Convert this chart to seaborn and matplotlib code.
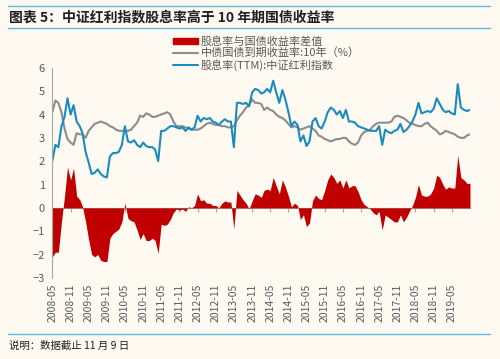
import pandas as pd
import matplotlib
matplotlib.use("Agg")
import matplotlib.pyplot as plt
import matplotlib.dates as mdates
from matplotlib.patches import Patch
from matplotlib.lines import Line2D
import seaborn as sns

# monthly readings, 2008-05 .. 2019-10
start_month = "2008-05-01"

div_yield = [
    2.0, 2.7, 2.6, 3.5, 3.9, 4.7, 4.0, 4.4, 3.7, 3.5, 3.2, 2.4, 1.95, 1.45, 1.5, 1.65,
    1.45, 1.35, 1.3, 2.2, 2.35, 2.35, 2.4, 2.7, 3.5, 2.85, 2.8, 2.9, 2.7, 2.6, 2.8, 2.65,
    2.6, 2.6, 2.5, 2.0, 3.3, 3.3, 3.4, 3.5, 3.5, 3.45, 3.4, 3.45, 3.3,
    3.45, 3.35, 3.45, 3.95, 3.7, 3.85, 3.8, 3.85, 3.7, 3.65, 3.55, 3.7, 3.8, 3.7, 3.7,
    2.6, 4.5, 4.5, 4.45, 4.5, 4.35, 4.95, 5.1, 5.05, 4.9, 4.95, 5.1, 4.95, 5.45, 4.95,
    4.5, 5.05, 4.65, 4.1, 3.5, 3.7, 3.55, 2.85, 3.1, 2.65, 2.85, 3.7, 3.85, 3.5,
    3.4, 3.7, 4.1, 4.3, 4.2, 4.0, 4.15, 3.85, 4.2, 3.7, 3.7, 3.65, 3.5, 3.45, 3.4, 3.35,
    3.3, 3.3, 3.3, 3.5, 2.7, 3.35, 3.25, 3.2, 3.3, 3.35, 3.6, 3.25, 3.35, 3.5, 3.7, 4.0,
    4.5, 4.05, 4.1, 4.15, 4.1, 4.25, 4.7, 4.45, 4.2, 4.1, 4.15, 4.05, 4.0, 5.3, 4.3,
    4.2, 4.15, 4.2,
]

bond_yield = [
    4.1, 4.6, 4.5, 4.1, 3.4, 2.95, 2.8, 2.7, 3.2, 3.15, 3.15, 3.0, 3.3, 3.45, 3.6, 3.65,
    3.7, 3.65, 3.6, 3.5, 3.45, 3.35, 3.3, 3.3, 3.3, 3.3, 3.35, 3.5, 3.65, 3.95, 3.9, 4.05,
    4.0, 3.9, 3.9, 3.95, 4.0, 4.05, 4.1, 4.0, 3.7, 3.5, 3.5, 3.5, 3.45,
    3.4, 3.35, 3.35, 3.35, 3.4, 3.5, 3.6, 3.65, 3.6, 3.55, 3.55, 3.5, 3.5, 3.45, 3.45,
    3.5, 3.75, 3.95, 4.1, 4.3, 4.4, 4.65, 4.5, 4.5, 4.45, 4.2, 4.3, 4.2, 4.15, 4.0,
    3.9, 3.85, 3.75, 3.6, 3.45, 3.5, 3.45, 3.35, 3.4, 3.45, 3.5, 3.4, 3.3, 3.1,
    3.05, 2.95, 2.9, 2.85, 2.9, 2.95, 2.95, 3.0, 3.0, 2.85, 2.75, 2.7, 2.8, 3.1, 3.25, 3.3,
    3.35, 3.5, 3.6, 3.65, 3.65, 3.65, 3.65, 3.7, 3.9, 3.95, 3.9, 3.85, 3.75, 3.65, 3.6, 3.55,
    3.5, 3.5, 3.6, 3.65, 3.5, 3.4, 3.3, 3.15, 3.2, 3.3, 3.25, 3.2, 3.15, 3.05, 3.0,
    3.0, 3.1, 3.15,
]

tick_dates = pd.date_range("2008-05-01", "2019-05-01", freq="6MS")

label_spread = "股息率与国债收益率差值"
label_bond = "中债国债到期收益率:10年（%）"
label_div = "股息率(TTM):中证红利指数"

df = pd.DataFrame({
    "date": pd.date_range(start_month, periods=len(div_yield), freq="MS"),
    "div": div_yield,
    "bond": bond_yield,
})
df["spread"] = df["div"] - df["bond"]

RED = "#C00000"
GREY = "#8C8C8C"
BLUE = "#1A8BBF"
TXT = "#595959"
BG = "#FEFAF1"
RULE = "#5CB9E0"

sns.set_style("white")
plt.rcParams["font.family"] = ["Noto Sans CJK SC", "DejaVu Sans"]

fig = plt.figure(figsize=(5, 3.59), dpi=100, facecolor=BG)
ax = fig.add_axes([0.104, 0.226, 0.836, 0.585])
ax.set_facecolor(BG)

ax.fill_between(df["date"], 0, df["spread"], color=RED, linewidth=0)
sns.lineplot(data=df, x="date", y="bond", color=GREY, linewidth=1.5, ax=ax)
sns.lineplot(data=df, x="date", y="div", color=BLUE, linewidth=1.5, ax=ax)

ax.set_ylim(-3, 6)
ax.set_yticks(range(-3, 7))
ax.set_xlim(pd.Timestamp("2008-04-28"), pd.Timestamp("2019-11-01"))
ax.set_xticks(tick_dates)
ax.xaxis.set_major_formatter(mdates.DateFormatter("%Y-%m"))
ax.set_xlabel("")
ax.set_ylabel("")

for s in ["top", "right", "bottom"]:
    ax.spines[s].set_visible(False)
ax.spines["left"].set_color("#A6A6A6")
ax.tick_params(axis="y", length=3, color="#A6A6A6", labelsize=8, labelcolor=TXT, pad=2)
ax.tick_params(axis="x", length=0, labelsize=7.5, labelcolor=TXT, rotation=90, pad=4)

# zero line with ticks
zero = ax.secondary_xaxis(1 / 3)
zero.set_xticks(tick_dates)
zero.tick_params(length=3, color="#A6A6A6", labelbottom=False, direction="out")
zero.spines["bottom"].set_color("#A6A6A6")

handles = [
    Patch(facecolor=RED, edgecolor=RED),
    Line2D([], [], color=GREY, linewidth=1.5),
    Line2D([], [], color=BLUE, linewidth=1.5),
]
fig.legend(handles, [label_spread, label_bond, label_div], loc="upper left",
           bbox_to_anchor=(0.335, 0.915), frameon=False, fontsize=8,
           labelcolor=TXT, handlelength=2.2, handleheight=0.5, handletextpad=0.3,
           labelspacing=0.1, borderpad=0)

fig.add_artist(Line2D([0.016, 0.98], [0.982, 0.982], color=RULE, linewidth=1))
fig.add_artist(Line2D([0.016, 0.98], [0.922, 0.922], color=RULE, linewidth=1))
fig.add_artist(Line2D([0.016, 0.98], [0.070, 0.070], color=RULE, linewidth=1))

fig.text(0.018, 0.952, "图表 5：中证红利指数股息率高于 10 年期国债收益率",
         fontsize=10, fontweight="bold", fontstyle="italic", color="#1F1F1F", va="center")
fig.text(0.018, 0.038, "说明：数据截止 11 月 9 日", fontsize=7.5, color="#1F1F1F", va="center")

fig.savefig("out.png", dpi=100, facecolor=BG)
